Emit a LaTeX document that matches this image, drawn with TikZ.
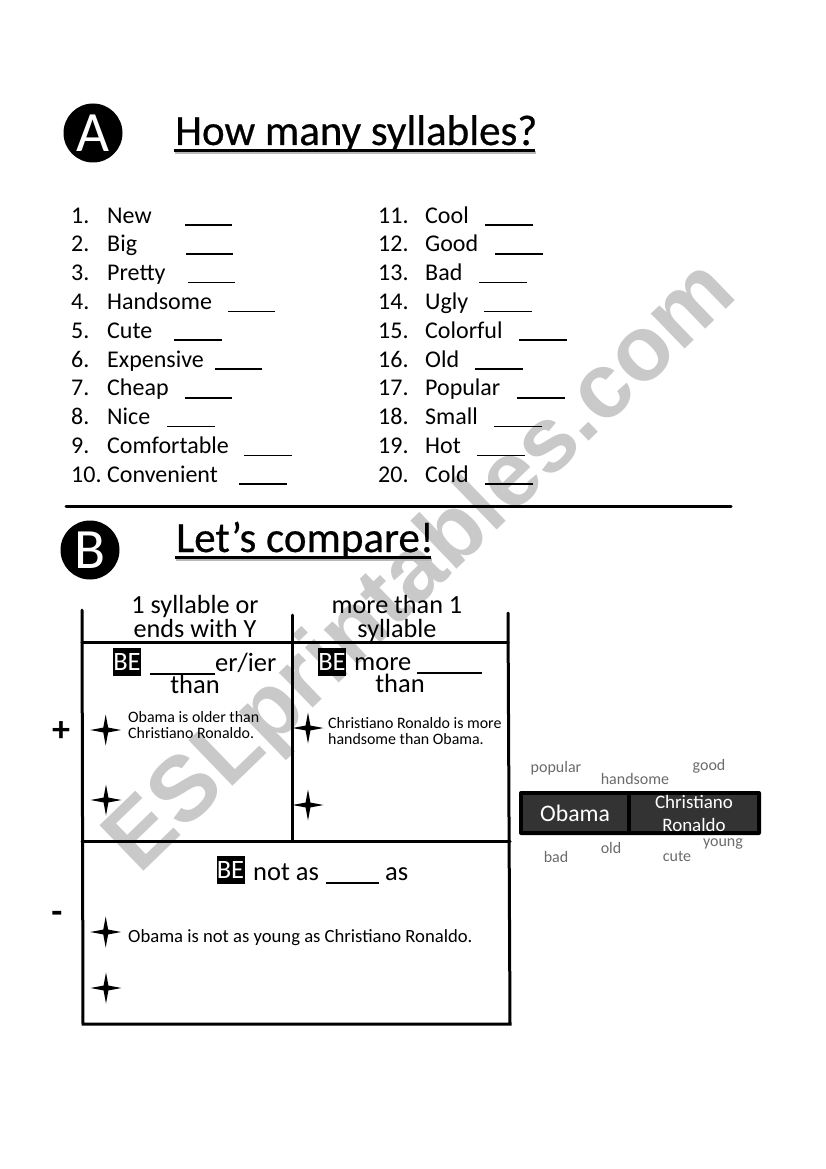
\documentclass[tikz,border=0pt]{standalone}
\usepackage{fontspec}
\usetikzlibrary{shapes.geometric}
\setmainfont{Carlito}
\newfontfamily\markfont{Liberation Sans}
\newfontfamily\headfont[FakeBold=0.5]{Carlito}
\definecolor{markgray}{gray}{0.79}
\definecolor{cellgray}{gray}{0.2}
\definecolor{wordgray}{gray}{0.42}
\tikzset{
  item/.style={anchor=base west,inner sep=0pt,font=\fontsize{24}{24}\selectfont},
  blank/.style={line width=1.8pt},
  rule/.style={line width=3pt,line cap=round},
  badge/.style={circle,fill=black,text=white,minimum size=59pt,inner sep=0pt,font=\fontsize{57}{57}\selectfont},
  heading/.style={anchor=base west,inner sep=0pt,font=\headfont\fontsize{43}{44}\selectfont},
  underbar/.style={line width=3pt},
  undershade/.style={line width=3pt,gray!55},
  colhead/.style={anchor=base,align=center,inner sep=0pt,font=\fontsize{26.2}{24}\selectfont},
  formula/.style={anchor=base west,inner sep=0pt,font=\fontsize{26.5}{25}\selectfont},
  bebox/.style={fill=black,text=white,minimum width=28pt,minimum height=28pt,inner sep=0pt,font=\fontsize{26.5}{25}\selectfont},
  sample/.style={anchor=base west,inner sep=0pt,align=left,font=\fontsize{15.9}{16}\selectfont},
  sparkle/.style={star,star points=4,star point ratio=4.5,fill=black,minimum size=31pt,inner sep=0pt},
  cloud/.style={inner sep=0pt,text=wordgray,font=\fontsize{16}{16}\selectfont},
  namecell/.style={fill=cellgray,text=white,inner sep=0pt,align=center},
}
\begin{document}
\begin{tikzpicture}[x=1pt,y=-1pt]
  \useasboundingbox (0,0) rectangle (826,1169);
  \fill[white] (0,0) rectangle (826,1169);
  % watermark
  \node[rotate=44,inner sep=0pt,text=markgray,font=\markfont\bfseries\fontsize{92}{92}\selectfont] (mark) at (423,569) {ESLprintables.com};
  % part A
  \node[badge] (letterA) at (93,133) {A};
  \node[heading] (titleA) at (175,145) {How many syllables?};
  \draw[undershade] (175,152.5) -- (536,152.5);
  \draw[underbar] (174,151) -- (535,151);
  \node[item] (n1) at (71,223) {1.};
  \node[item] (w1) at (107,223) {New};
  \node[item] (n2) at (71,251.8) {2.};
  \node[item] (w2) at (107,251.8) {Big};
  \node[item] (n3) at (71,280.6) {3.};
  \node[item] (w3) at (107,280.6) {Pretty};
  \node[item] (n4) at (71,309.4) {4.};
  \node[item] (w4) at (107,309.4) {Handsome};
  \node[item] (n5) at (71,338.2) {5.};
  \node[item] (w5) at (107,338.2) {Cute};
  \node[item] (n6) at (71,367) {6.};
  \node[item] (w6) at (107,367) {Expensive};
  \node[item] (n7) at (71,395.8) {7.};
  \node[item] (w7) at (107,395.8) {Cheap};
  \node[item] (n8) at (71,424.6) {8.};
  \node[item] (w8) at (107,424.6) {Nice};
  \node[item] (n9) at (71,453.4) {9.};
  \node[item] (w9) at (107,453.4) {Comfortable};
  \node[item] (n10) at (71,482.2) {10.};
  \node[item] (w10) at (107,482.2) {Convenient};
  \node[item] (n11) at (378,223) {11.};
  \node[item] (w11) at (425,223) {Cool};
  \node[item] (n12) at (378,251.8) {12.};
  \node[item] (w12) at (425,251.8) {Good};
  \node[item] (n13) at (378,280.6) {13.};
  \node[item] (w13) at (425,280.6) {Bad};
  \node[item] (n14) at (378,309.4) {14.};
  \node[item] (w14) at (425,309.4) {Ugly};
  \node[item] (n15) at (378,338.2) {15.};
  \node[item] (w15) at (425,338.2) {Colorful};
  \node[item] (n16) at (378,367) {16.};
  \node[item] (w16) at (425,367) {Old};
  \node[item] (n17) at (378,395.8) {17.};
  \node[item] (w17) at (425,395.8) {Popular};
  \node[item] (n18) at (378,424.6) {18.};
  \node[item] (w18) at (425,424.6) {Small};
  \node[item] (n19) at (378,453.4) {19.};
  \node[item] (w19) at (425,453.4) {Hot};
  \node[item] (n20) at (378,482.2) {20.};
  \node[item] (w20) at (425,482.2) {Cold};
  \draw[blank] (185,225) -- (232,225);
  \draw[blank] (186,254) -- (233,254);
  \draw[blank] (188,282.5) -- (235,282.5);
  \draw[blank] (228,311.5) -- (275,311.5);
  \draw[blank] (174,340) -- (222,340);
  \draw[blank] (215,369) -- (262,369);
  \draw[blank] (185,398) -- (232,398);
  \draw[blank] (167,426.5) -- (215,426.5);
  \draw[blank] (244,455.5) -- (292,455.5);
  \draw[blank] (239,484) -- (287,484);
  \draw[blank] (485,225) -- (533,225);
  \draw[blank] (495,254) -- (543,254);
  \draw[blank] (479,282.5) -- (527,282.5);
  \draw[blank] (484,311.5) -- (532,311.5);
  \draw[blank] (519,340) -- (567,340);
  \draw[blank] (475,369) -- (523,369);
  \draw[blank] (517,398) -- (565,398);
  \draw[blank] (494,426.5) -- (542,426.5);
  \draw[blank] (477,455.5) -- (525,455.5);
  \draw[blank] (485,484) -- (533,484);
  \draw[rule] (66,506) -- (731,506);
  % part B
  \node[badge] (letterB) at (90,550) {B};
  \node[heading] (titleB) at (176,552) {Let’s compare!};
  \draw[undershade] (176,559) -- (432,559);
  \draw[underbar] (175,557.5) -- (431,557.5);
  \draw[rule] (82,610) -- (83,1024) -- (510,1024) -- (508,613);
  \draw[rule] (292,615) -- (292,841);
  \draw[rule] (82,642) -- (508,642);
  \draw[rule] (82,841) -- (510,841);
  \node[colhead] (headone) at (195,637) {1 syllable or\\ends with Y};
  \node[colhead] (headtwo) at (397,637) {more than 1\\syllable};
  \node[bebox] (beone) at (127,662) {BE};
  \node[formula] (erier) at (215,671) {er/ier};
  \draw[blank] (150,674) -- (215,674);
  \node[formula,anchor=base] (thanone) at (195,693) {than};
  \node[bebox] (betwo) at (332,662) {BE};
  \node[formula] (more) at (354,670) {more};
  \draw[blank] (417,673) -- (482,673);
  \node[formula,anchor=base] (thantwo) at (400,692) {than};
  \node[bebox] (bethree) at (230.5,870) {BE};
  \node[formula] (notas) at (253,880) {not as};
  \draw[blank] (326,883) -- (379,883);
  \node[formula] (as) at (385,880) {as};
  \node[anchor=base,inner sep=0pt,font=\bfseries\fontsize{36}{36}\selectfont] (plus) at (61,741) {+};
  \node[anchor=base,inner sep=0pt,font=\bfseries\fontsize{36}{36}\selectfont] (minus) at (57,923) {-};
  \node[sparkle] (sparkA) at (105.7,730) {};
  \node[sparkle] (sparkB) at (106,800) {};
  \node[sparkle] (sparkC) at (308,728) {};
  \node[sparkle] (sparkD) at (308,805) {};
  \node[sparkle] (sparkE) at (105.7,932) {};
  \node[sparkle] (sparkF) at (106,988) {};
  \node[sample] (older) at (128,738) {Obama is older than\\Christiano Ronaldo.};
  \node[sample] (handsome) at (328,744) {Christiano Ronaldo is more\\handsome than Obama.};
  \node[sample,font=\fontsize{18.65}{18}\selectfont] (young) at (128,942) {Obama is not as young as Christiano Ronaldo.};
  % names and words
  \draw[fill=black,rounded corners=2pt,draw=none] (519,791) rectangle (761,835);
  \node[namecell,minimum width=104pt,minimum height=36pt,font=\fontsize{23.7}{22}\selectfont] (obama) at (575,813) {Obama};
  \node[namecell,minimum width=126pt,minimum height=36pt,font=\fontsize{19}{23}\selectfont] (ronaldo) at (694,813) {Christiano\\Ronaldo};
  \node[cloud] (popular) at (556,768) {popular};
  \node[cloud] (handsomeword) at (635,779) {handsome};
  \node[cloud] (good) at (709,766) {good};
  \node[cloud] (bad) at (556,857) {bad};
  \node[cloud] (old) at (611,848) {old};
  \node[cloud] (cute) at (677,856) {cute};
  \node[cloud] (youngword) at (723,843.5) {young};
\end{tikzpicture}
\end{document}
